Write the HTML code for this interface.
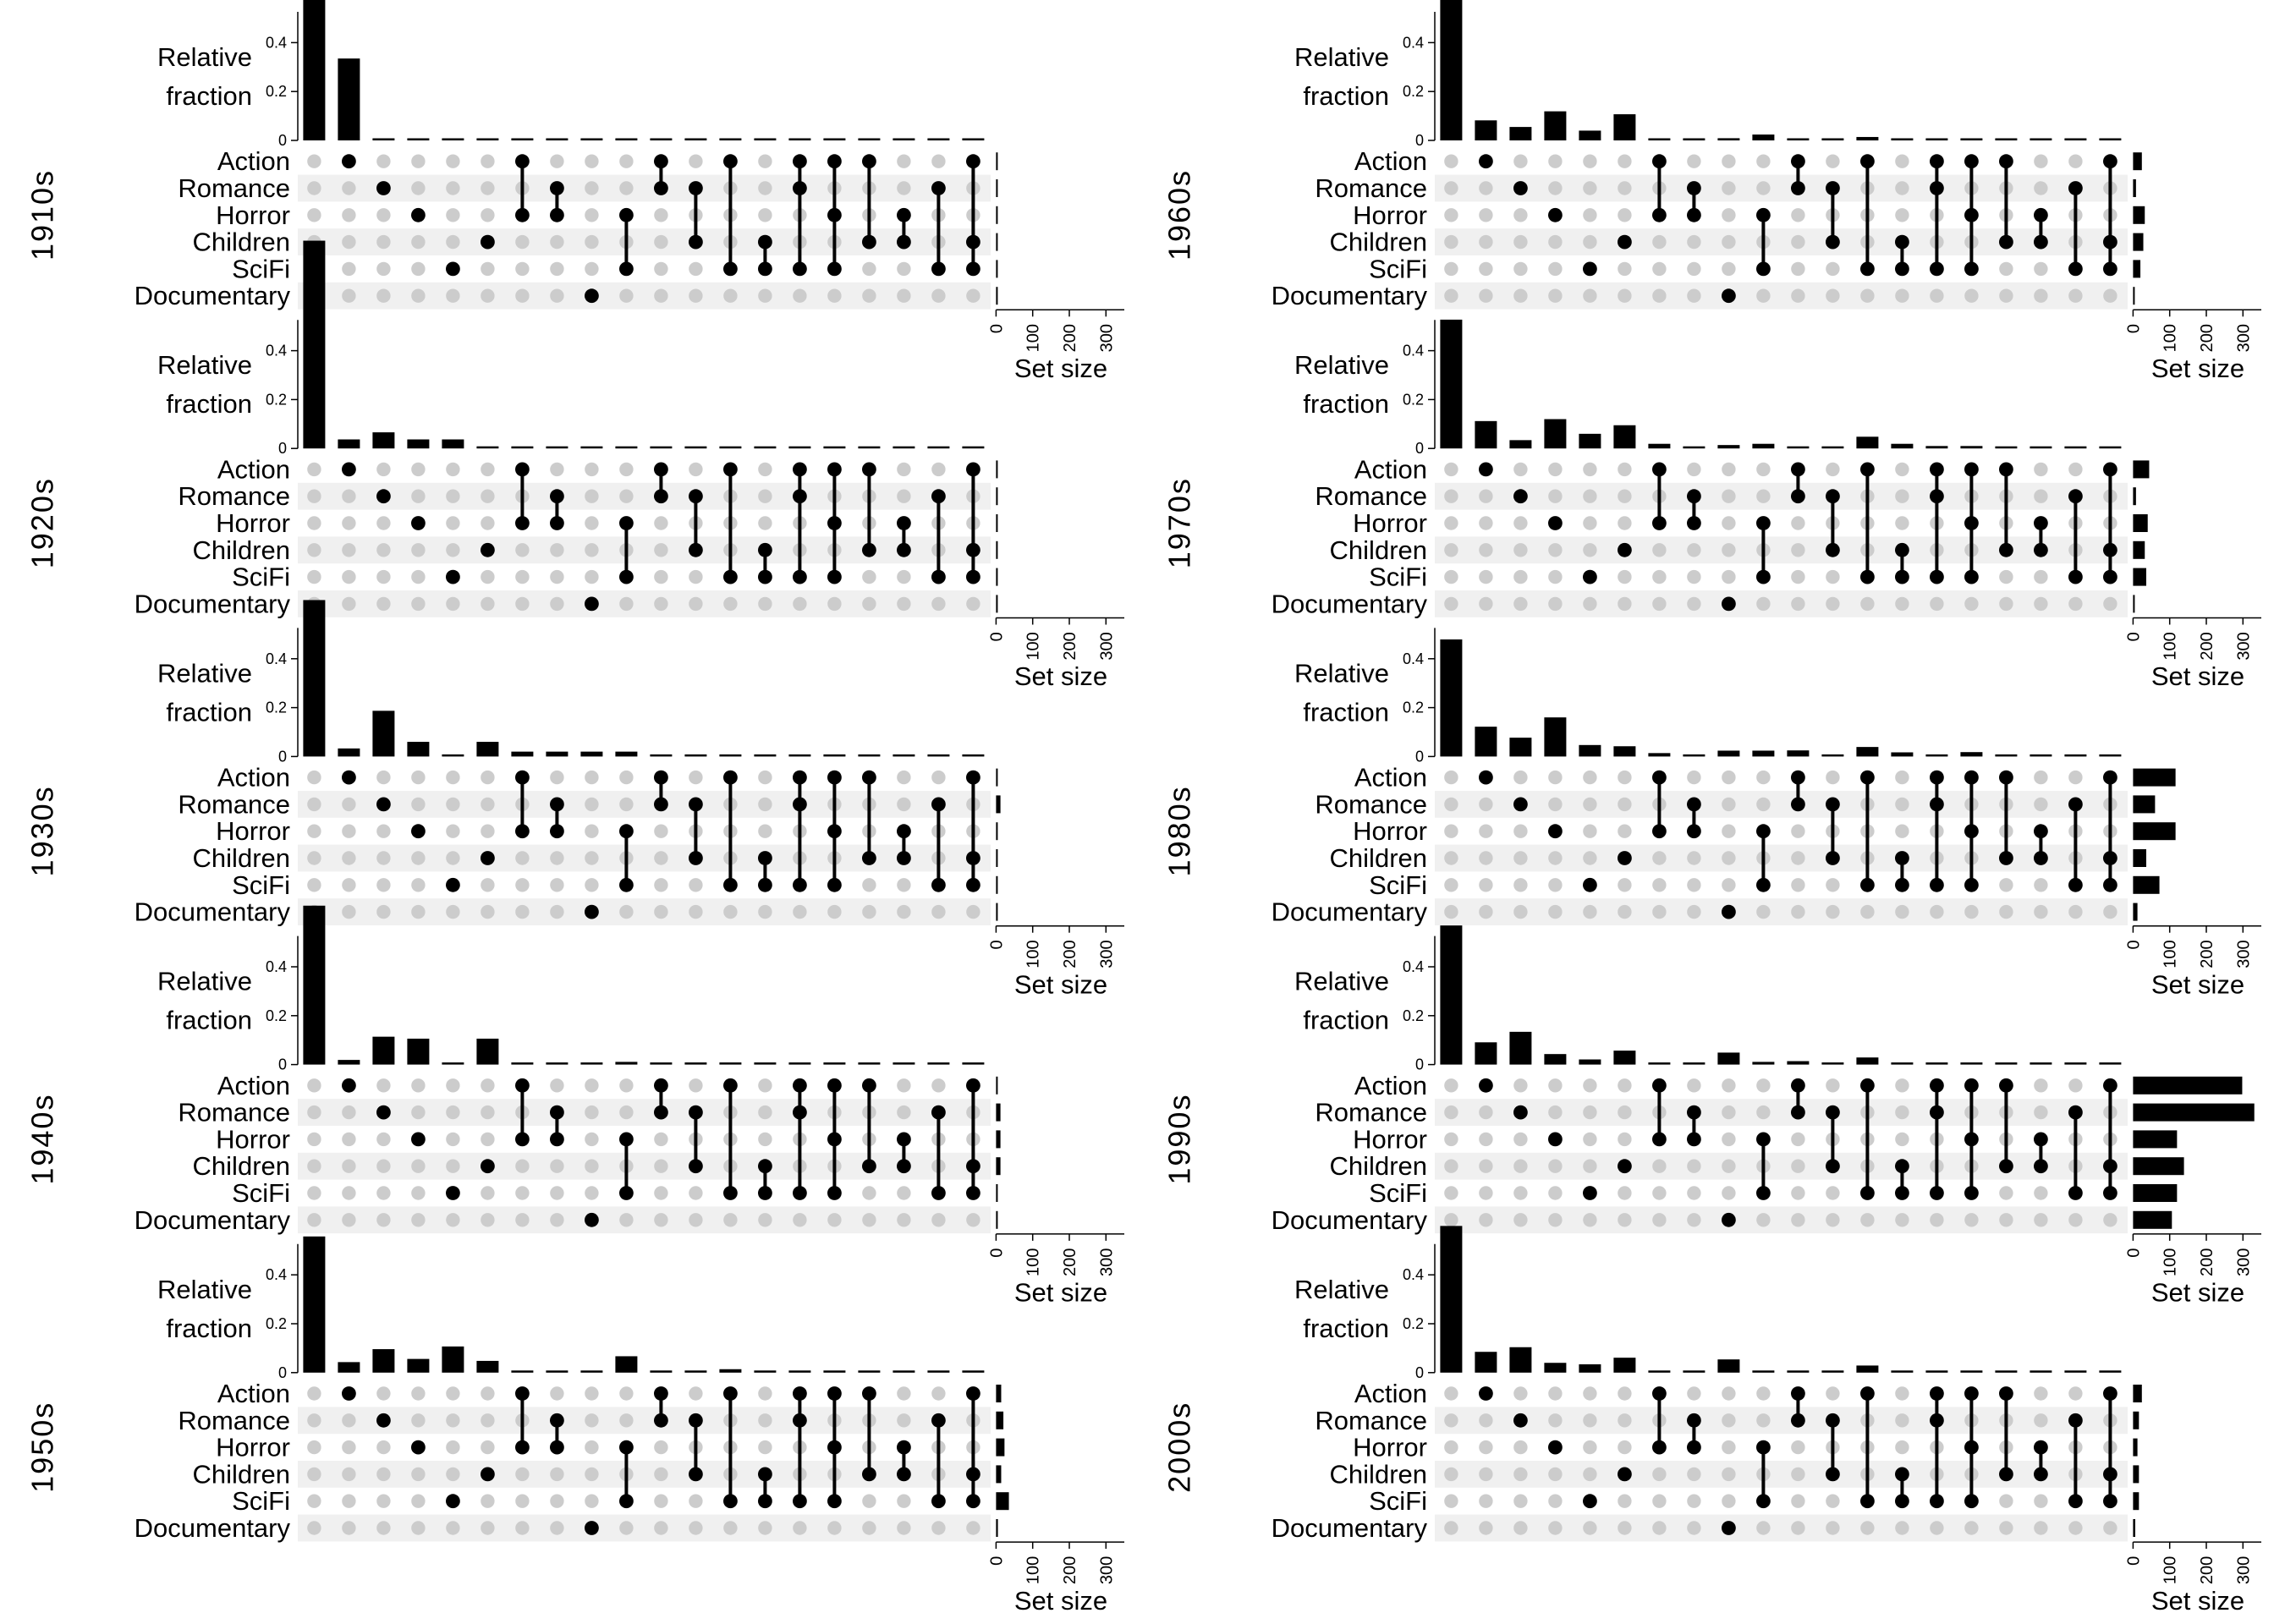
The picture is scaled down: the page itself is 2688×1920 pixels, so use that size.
<!DOCTYPE html>
<html><head><meta charset="utf-8"><style>
html,body{margin:0;padding:0;background:#fff;}
svg{display:block;font-family:"Liberation Sans",sans-serif;}
</style></head><body>
<svg id="chart" width="2688" height="1920" viewBox="0 0 2688 1920" xmlns="http://www.w3.org/2000/svg"></svg>
<script>
const decades = ["1910s","1920s","1930s","1940s","1950s","1960s","1970s","1980s","1990s","2000s"];
const setNames = ["Action","Romance","Horror","Children","SciFi","Documentary"];
// intersection membership: indices into setNames
const intersections = [[],[0],[1],[2],[4],[3],[0,2],[1,2],[5],[2,4],[0,1],[1,3],[0,4],[3,4],[0,1,4],[0,2,4],[0,3],[2,3],[1,4],[0,3,4]];
const frac1910s = [0.70,0.335,0,0,0,0,0,0,0,0,0,0,0,0,0,0,0,0,0,0];
const frac1920s = [0.85,0.037,0.066,0.037,0.037,0,0,0,0,0,0,0,0,0,0,0,0,0,0,0];
const frac1930s = [0.64,0.033,0.187,0.06,0.005,0.06,0.02,0.02,0.02,0.02,0.004,0.004,0.004,0.004,0.004,0.004,0.004,0.004,0.004,0.004];
const frac1940s = [0.65,0.019,0.114,0.106,0.003,0.106,0.003,0.003,0.003,0.011,0.003,0.003,0.003,0.003,0.003,0.003,0.003,0.003,0.003,0.003];
const frac1950s = [0.557,0.043,0.096,0.056,0.107,0.048,0.003,0.003,0.008,0.067,0.008,0.008,0.014,0.008,0.003,0.003,0.003,0.003,0.003,0.003];
const frac1960s = [0.62,0.082,0.055,0.119,0.04,0.107,0.003,0.003,0.009,0.024,0.003,0.003,0.014,0.003,0.003,0.003,0.003,0.003,0.003,0.003];
const frac1970s = [0.527,0.112,0.034,0.12,0.06,0.095,0.019,0.003,0.014,0.019,0.003,0.003,0.048,0.019,0.01,0.01,0.003,0.003,0.003,0.003];
const frac1980s = [0.479,0.122,0.077,0.16,0.047,0.042,0.014,0.004,0.024,0.024,0.025,0.006,0.039,0.017,0.004,0.018,0.006,0.006,0.006,0.006];
const frac1990s = [0.569,0.091,0.134,0.043,0.021,0.057,0.004,0.004,0.049,0.011,0.014,0.006,0.029,0.004,0.004,0.007,0.004,0.004,0.004,0.004];
const frac2000s = [0.60,0.085,0.104,0.04,0.034,0.061,0.008,0.003,0.054,0.008,0.008,0.003,0.029,0.003,0.003,0.003,0.003,0.003,0.003,0.003];
const size1910s = [2,2,2,2,2,2];
const size1920s = [2,2,2,2,2,2];
const size1930s = [3,12,3,3,3,2];
const size1940s = [4,12,12,12,3,2];
const size1950s = [14,20,23,14,35,5];
const size1960s = [24,8,32,28,20,4];
const size1970s = [44,8,40,32,36,4];
const size1980s = [116,60,116,36,72,12];
const size1990s = [298,331,120,139,120,106];
const size2000s = [24,16,12,16,16,6];
const fracTicks = [0,0.2,0.4];
const fracTickLabels = ["0","0.2","0.4"];
const sizeTicks = [0,100,200,300];
const sizeTickLabels = ["0","100","200","300"];
const allFrac = [frac1910s,frac1920s,frac1930s,frac1940s,frac1950s,frac1960s,frac1970s,frac1980s,frac1990s,frac2000s];
const allSize = [size1910s,size1920s,size1930s,size1940s,size1950s,size1960s,size1970s,size1980s,size1990s,size2000s];

const NS="http://www.w3.org/2000/svg";
const svg=document.getElementById('chart');
function mk(tag,attrs,parent,text){const e=document.createElementNS(NS,tag);for(const k in attrs)e.setAttribute(k,attrs[k]);if(text!==undefined)e.textContent=text;parent.appendChild(e);return e;}
const PITCH=364.2, COLX0=371.4, COLDX=41.0, ROWY0=190.7, ROWDY=31.8;
const BASE=166, FSCALE=289, SX0=1177.4, SSCALE=0.433, SAXY=366.3;
function colX(i){return COLX0+COLDX*i;}
function rowY(r){return ROWY0+ROWDY*r;}
function fy(v){return BASE-v*FSCALE;}
function sx(v){return SX0+v*SSCALE;}

decades.forEach((dec,d)=>{
  const ox=d<5?0:1344, oy=(d%5)*PITCH;
  const g=mk('g',{transform:`translate(${ox},${oy})`},svg);
  
  
  const dl=mk('text',{x:0,y:0,transform:`translate(50,254) rotate(-90)`,'text-anchor':'middle','dominant-baseline':'central','font-size':36,'letter-spacing':2},g,dec);
  
  
  [1,3,5].forEach(r=>{
    const b=mk('rect',{x:352,y:rowY(r)-ROWDY/2,width:819,height:ROWDY,fill:'#f0f0f0'},g);
    
    
  });
  setNames.forEach((s,r)=>{
    const t=mk('text',{x:343,y:rowY(r),'text-anchor':'end','dominant-baseline':'central','font-size':31},g,s);
    
    
  });
  const ax=mk('line',{x1:352,x2:352,y1:14,y2:BASE,stroke:'#000','stroke-width':1.5},g);
  
  
  fracTicks.forEach((v,i)=>{
    mk('line',{x1:344,x2:352,y1:fy(v),y2:fy(v),stroke:'#000','stroke-width':1.5},g);
    const tl=mk('text',{x:339,y:fy(v),'text-anchor':'end','dominant-baseline':'central','font-size':18},g,fracTickLabels[i]);
    
    
  });
  const t1=mk('text',{x:298,y:78,'text-anchor':'end','font-size':31},g,'Relative');
  
  
  mk('text',{x:298,y:124,'text-anchor':'end','font-size':31},g,'fraction');
  intersections.forEach((mem,i)=>{
    const x=colX(i);
    setNames.forEach((s,r)=>{
      if(!mem.includes(r)){const c=mk('circle',{cx:x,cy:rowY(r),r:8.2,fill:'#cccccc'},g);
      
      }
    });
    if(mem.length>1){
      const ln=mk('line',{x1:x,x2:x,y1:rowY(Math.min(...mem)),y2:rowY(Math.max(...mem)),stroke:'#000','stroke-width':4},g);
      
      
    }
    mem.forEach(r=>{
      const c=mk('circle',{cx:x,cy:rowY(r),r:8.4,fill:'#000'},g);
      
      
    });
  });
  allFrac[d].forEach((v,i)=>{
    const h=Math.max(v*FSCALE,2.5);
    const b=mk('rect',{x:colX(i)-13,y:BASE-h,width:26,height:h,fill:'#000'},g);
    
    
  });
  allSize[d].forEach((v,r)=>{
    const w=Math.max(v*SSCALE,2);
    const b=mk('rect',{x:SX0,y:rowY(r)-10.5,width:w,height:21,fill:'#000'},g);
    
    
  });
  const sa=mk('line',{x1:SX0,x2:1329,y1:SAXY,y2:SAXY,stroke:'#000','stroke-width':1.5},g);
  
  
  sizeTicks.forEach((v,i)=>{
    mk('line',{x1:sx(v),x2:sx(v),y1:SAXY,y2:SAXY+8,stroke:'#000','stroke-width':1.5},g);
    const tl=mk('text',{x:0,y:0,transform:`translate(${sx(v)+7},383) rotate(-90)`,'text-anchor':'end','font-size':20},g,sizeTickLabels[i]);
    
    
  });
  const st=mk('text',{x:1254,y:446,'text-anchor':'middle','font-size':31},g,'Set size');
  
  
});
</script>
</body></html>
